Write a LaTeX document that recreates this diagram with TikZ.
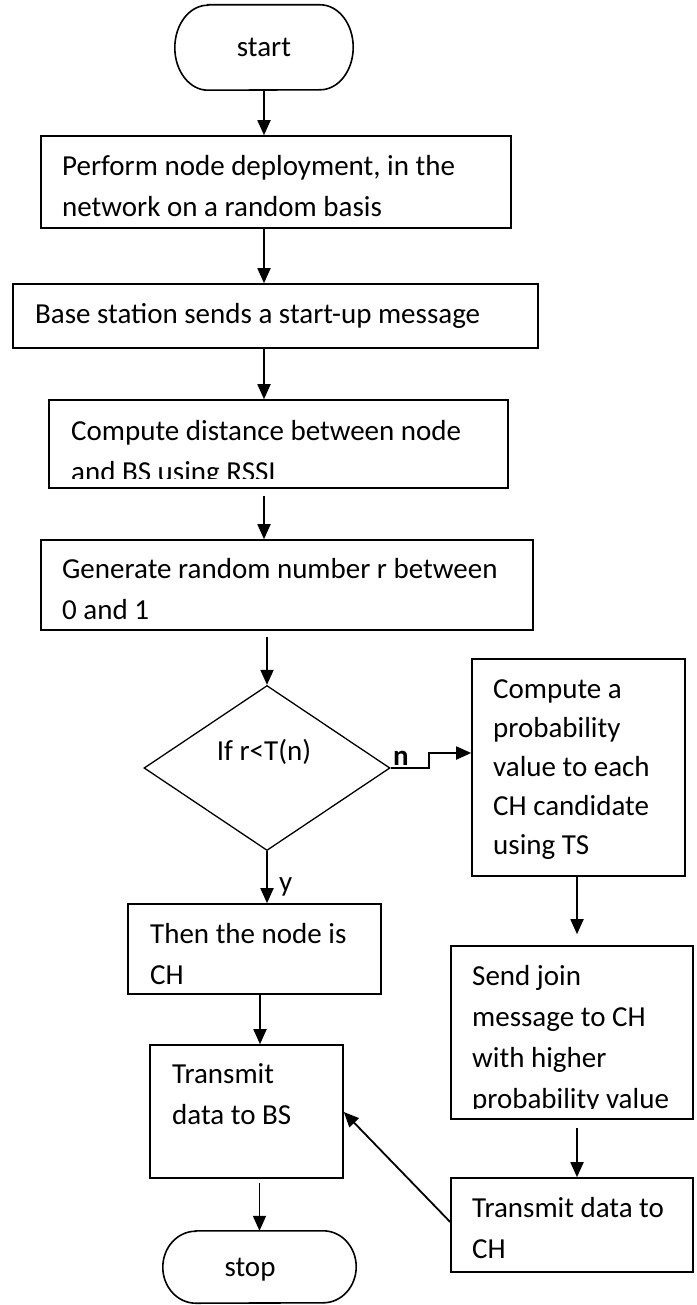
\documentclass[tikz,border=0pt]{standalone}
\usepackage{fontspec}
\setmainfont{Carlito}
\usetikzlibrary{arrows.meta,shapes.geometric}
\tikzset{
  frame/.style={draw, line width=1.6pt, rectangle, inner sep=0pt},
  txt/.style={font=\fontsize{29}{41}\selectfont, inner sep=0pt, anchor=north west, align=left},
  txtb/.style={font=\fontsize{29}{39}\selectfont, inner sep=0pt, anchor=north west, align=left},
  arr/.style={line width=1.8pt, -{Triangle[length=15pt,width=13pt]}},
  lab/.style={font=\fontsize{29}{35}\selectfont, inner sep=0pt}
}
\begin{document}
\begin{tikzpicture}[x=1pt,y=-1pt]
\useasboundingbox (0,0) rectangle (696,1305);
% start terminal
\node[minimum width=178pt, minimum height=85pt, inner sep=0pt, font=\fontsize{29}{35}\selectfont] (start) at (264,47.5) {start};
\draw[line width=1.6pt] ([xshift=33pt]start.north west) -- ([xshift=-33pt]start.north east)
  arc[start angle=90,end angle=-90,x radius=33pt,y radius=42.5pt]
  -- ([xshift=33pt]start.south west)
  arc[start angle=270,end angle=90,x radius=33pt,y radius=42.5pt] -- cycle;
% box 1
\node[frame, minimum width=470pt, minimum height=92pt] (b1) at (276,182) {};
\node[txt] (t1) at (62,146.3) {\strut Perform node deployment, in the\\\strut network on a random basis};
% box 2
\node[frame, minimum width=525pt, minimum height=64pt] (b2) at (275.5,316) {};
\node[txt] (t2) at (35,294.3) {\strut Base station sends a start-up message};
% box 3
\node[frame, minimum width=459pt, minimum height=88pt] (b3) at (278.5,444) {};
\begin{scope}
\clip (0,400) rectangle (696,478);
\node[txt] (t3) at (71,411.3) {\strut Compute distance between node\\\strut and BS using RSSI};
\end{scope}
% box 4
\node[frame, minimum width=492pt, minimum height=90pt] (b4) at (287,585) {};
\node[txt] (t4) at (62,549.3) {\strut Generate random number r between\\\strut 0 and 1};
% decision
\node[diamond, draw, line width=1.3pt, minimum width=246pt, minimum height=165pt, inner sep=0pt] (dec) at (267,768) {};
\node[lab, anchor=base] (dt) at (264,760) {If r<T(n)};
% box 5
\node[frame, minimum width=213pt, minimum height=217pt] (b5) at (578.5,767.5) {};
\node[txtb] (t5) at (493,670.7) {\strut Compute a\\\strut probability\\\strut value to each\\\strut CH candidate\\\strut using TS};
% box 6
\node[frame, minimum width=242pt, minimum height=173pt] (b6) at (572,1032.5) {};
\begin{scope}
\clip (0,946) rectangle (696,1108);
\node[txt] (t6) at (472,956.3) {\strut Send join\\\strut message to CH\\\strut with higher\\\strut probability value};
\end{scope}
% box 7
\node[frame, minimum width=242pt, minimum height=94pt] (b7) at (572,1225) {};
\node[txt] (t7) at (472,1188.3) {\strut Transmit data to\\\strut CH};
% box 8
\node[frame, minimum width=253pt, minimum height=90pt] (b8) at (254.5,949) {};
\node[txt] (t8) at (150,914.3) {\strut Then the node is\\\strut CH};
% box 9
\node[frame, minimum width=193pt, minimum height=133pt] (b9) at (246.5,1111.5) {};
\node[txt] (t9) at (172,1054.3) {\strut Transmit\\\strut data to BS};
% stop terminal
\node[minimum width=193pt, minimum height=72pt, inner sep=0pt] (stop) at (259.5,1267) {};
\node[lab, anchor=base] (st) at (250,1276) {stop};
\draw[line width=1.6pt] ([xshift=33pt]stop.north west) -- ([xshift=-33pt]stop.north east)
  arc[start angle=90,end angle=-90,x radius=33pt,y radius=36pt]
  -- ([xshift=33pt]stop.south west)
  arc[start angle=270,end angle=90,x radius=33pt,y radius=36pt] -- cycle;
% connectors
\coordinate (cx) at (264,0);
\draw[arr] (start.south) -- (b1.north -| cx);
\draw[arr] (b1.south -| cx) -- (b2.north -| cx);
\draw[arr] (b2.south -| cx) -- (b3.north -| cx);
\draw[arr, shorten <=7pt] (b3.south -| cx) -- (b4.north -| cx);
\draw[arr, shorten <=6pt] (b4.south -| dec) -- (dec.north);
\coordinate (nstep) at (429,753);
\draw[arr] (dec.east) -| (nstep) -- (b5.west |- nstep);
\node[lab, anchor=base west, font=\fontsize{29}{35}\selectfont\bfseries] (nl) at (393,765) {n};
\draw[arr] (dec.south) -- (b8.north -| dec);
\node[lab, anchor=base west] (yl) at (279,891) {y};
\coordinate (cl) at (260,0);
\draw[arr] (b8.south -| cl) -- (b9.north -| cl);
\draw[arr, shorten <=4pt] (b9.south -| stop) -- (stop.north);
\coordinate (cr) at (577,0);
\draw[arr, shorten >=11pt] (b5.south -| cr) -- (b6.north -| cr);
\draw[arr, shorten <=8pt] (b6.south -| cr) -- (b7.north -| cr);
\draw[arr] (b7.west |- 0,1222) -- (b9.east |- 0,1112);
\end{tikzpicture}
\end{document}
